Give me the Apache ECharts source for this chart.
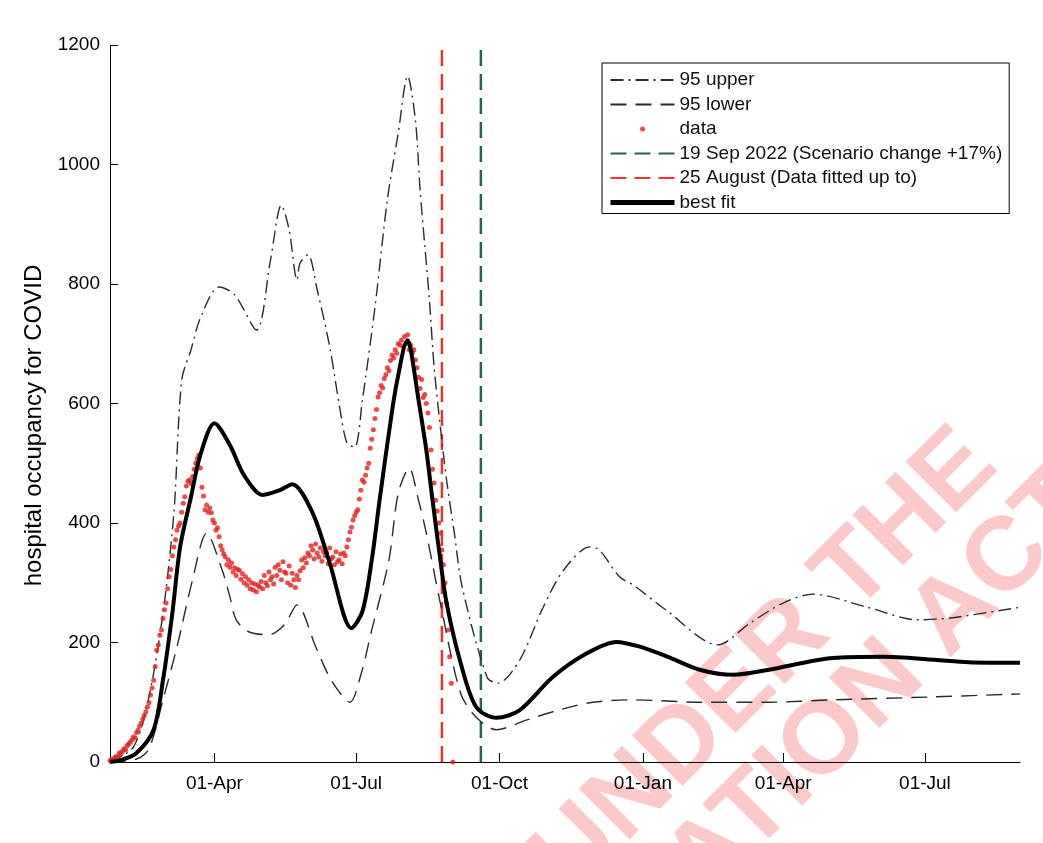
<!DOCTYPE html>
<html><head><meta charset="utf-8">
<script src="https://cdn.jsdelivr.net/npm/echarts@6/dist/echarts.min.js"></script>
<style>html,body{margin:0;padding:0;background:#fff}#chart{width:1043px;height:843px}</style>
</head><body><div id="chart"></div>
<script>
// ---- axis ----
const axisStart = '2022-01-24', axisEnd = '2023-08-31';
const tickDates = ['2022-04-01','2022-07-01','2022-10-01','2023-01-01','2023-04-01','2023-07-01'];
const tickLabels = ['01-Apr','01-Jul','01-Oct','01-Jan','01-Apr','01-Jul'];
const yMin = 0, yMax = 1200, yStep = 200;
const seriesNames = ['95 upper','95 lower','data','19 Sep 2022 (Scenario change +17%)','25 August (Data fitted up to)','best fit'];
const eventDates = ['2022-09-19','2022-08-25'];

// ---- daily observed data (from 24 Jan 2022) ----
const dataStart = '2022-01-24';
const dataJan = [2,4,3,7,9,8,15,14];
const dataFeb = [18,22,20,27,30,33,37,42,40,49,53,60,65,72,78,84,92,99,112,124,137,160,187,196,212,221,240,255];
const dataMar = [266,290,310,322,345,360,372,388,395,400,418,433,444,462,470,472,466,478,490,500,508,514,492,460,445,422,430,418,425,417,405];
const dataApr = [400,388,392,377,362,355,348,343,330,338,326,333,318,325,312,322,321,306,315,300,310,296,305,290,300,288,298,285,296,293];
const dataMay = [302,290,312,300,295,318,305,310,298,326,312,330,321,305,335,318,316,300,328,296,316,305,292,312,305,320,338,325,342,333,350];
const dataJun = [345,362,355,340,365,350,343,358,336,352,345,350,332,358,340,343,330,352,335,338,348,332,350,345,360,372,385,393,405,412];
const dataJul = [418,422,440,455,472,468,480,492,500,525,540,556,575,590,611,618,630,626,642,648,660,655,672,681,676,690,684,700,698,706,695];
const dataAug = [712,700,715,690,698,685,690,673,660,644,625,640,610,615,600,584,560,522,490,467,438,420,400,383,355,330,300,266,221,176,132];
const dataSep = [0];

// ---- best fit ----
const fitDates = ['2022-01-24','2022-01-31','2022-02-10','2022-02-21','2022-02-27','2022-03-05','2022-03-10','2022-03-17','2022-03-23','2022-04-01','2022-04-11','2022-04-20','2022-05-02','2022-05-13','2022-05-21','2022-06-03','2022-06-14','2022-06-28','2022-07-05','2022-07-11','2022-07-16','2022-07-22','2022-07-27','2022-08-03','2022-08-05','2022-08-10','2022-08-15','2022-08-19','2022-08-24','2022-08-28','2022-09-06','2022-09-16','2022-09-29','2022-10-14','2022-11-04','2022-11-26','2022-12-15','2022-12-30','2023-01-17','2023-02-07','2023-02-28','2023-03-22','2023-05-03','2023-06-04','2023-07-07','2023-07-29','2023-08-31'];
const fitValues = [0,3,15,54,137,249,360,444,514,567,530,480,447,455,465,417,333,224,252,338,438,551,634,706,690,606,522,438,338,266,166,92,74,87,142,182,201,193,176,154,146,154,174,176,171,167,166];

// ---- 95% upper ----
const upperDates = ['2022-01-24','2022-02-08','2022-02-18','2022-02-27','2022-03-06','2022-03-11','2022-03-17','2022-03-23','2022-04-04','2022-04-14','2022-04-28','2022-05-07','2022-05-14','2022-05-19','2022-05-24','2022-05-26','2022-05-31','2022-06-06','2022-06-14','2022-06-20','2022-06-25','2022-06-30','2022-07-05','2022-07-13','2022-07-21','2022-07-28','2022-08-03','2022-08-08','2022-08-11','2022-08-14','2022-08-17','2022-08-20','2022-08-24','2022-08-28','2022-09-02','2022-09-07','2022-09-23','2022-09-30','2022-10-14','2022-10-29','2022-11-11','2022-11-28','2022-12-04','2022-12-17','2022-12-26','2023-01-16','2023-02-18','2023-03-11','2023-04-01','2023-04-20','2023-05-25','2023-06-26','2023-07-17','2023-08-31'];
const upperValues = [0,25,109,249,417,639,690,743,795,782,723,840,932,890,807,835,849,790,695,600,534,527,606,760,941,1053,1148,1074,957,865,773,661,561,472,383,293,142,132,171,259,321,360,355,310,296,254,196,233,266,281,259,238,241,259];

// ---- 95% lower ----
const lowerDates = ['2022-01-24','2022-02-10','2022-02-18','2022-02-27','2022-03-08','2022-03-18','2022-03-27','2022-04-06','2022-04-11','2022-04-15','2022-04-23','2022-05-06','2022-05-16','2022-05-24','2022-06-05','2022-06-15','2022-06-27','2022-07-04','2022-07-11','2022-07-22','2022-07-28','2022-08-04','2022-08-10','2022-08-15','2022-08-24','2022-09-06','2022-09-16','2022-09-29','2022-10-18','2022-11-08','2022-11-30','2022-12-26','2023-02-07','2023-03-22','2023-05-03','2023-07-07','2023-08-31'];
const lowerValues = [0,5,22,104,193,305,383,321,276,238,218,213,230,263,193,137,100,146,221,338,450,492,438,383,266,115,75,54,70,87,100,104,100,100,104,109,114];

// ---- helpers ----
const DAY = 86400000;
const t = d => Date.parse(d + 'T00:00:00Z');
const pair = (ds, vs) => ds.map((d, i) => [t(d), vs[i]]);
const dataValues = [].concat(dataJan, dataFeb, dataMar, dataApr, dataMay, dataJun, dataJul, dataAug, dataSep);
const dataPts = dataValues.map((v, i) => [t(dataStart) + i * DAY, v]);
const tickTimes = tickDates.map(t);
const FONT = '"Liberation Sans", Arial, Helvetica, sans-serif';
const vline = d => [[t(d), yMin], [t(d), yMax]];
const WM = 'bold 104px "Liberation Sans", Arial, sans-serif';
const noSym = {opacity: 0};

const chart = echarts.init(document.getElementById('chart'), null, {renderer: 'canvas'});
chart.setOption({
  animation: false,
  backgroundColor: '#ffffff',
  textStyle: {fontFamily: FONT},
  grid: {left: 110, right: 23, top: 45, bottom: 81, containLabel: false},
  graphic: [
    {type: 'text', z: -10, x: 980, y: 448, rotation: 45 * Math.PI / 180,
      style: {text: 'RELEASED UNDER THE', font: WM, fill: 'rgba(240,60,60,0.28)', textAlign: 'right', textVerticalAlign: 'middle'}},
    {type: 'text', z: -10, x: 1079, y: 488, rotation: 45 * Math.PI / 180,
      style: {text: 'OFFICIAL INFORMATION ACT', font: WM, fill: 'rgba(240,60,60,0.28)', textAlign: 'right', textVerticalAlign: 'middle'}}
  ],
  legend: {
    orient: 'vertical', left: 602, top: 63,
    itemWidth: 64, itemHeight: 5, itemGap: 4.5,
    padding: [7, 7, 1, 6],
    backgroundColor: '#fff', borderColor: '#000', borderWidth: 1,
    textStyle: {fontSize: 19, color: '#111', fontFamily: FONT, lineHeight: 20},
    data: [
      {name: seriesNames[0], itemStyle: noSym},
      {name: seriesNames[1], itemStyle: noSym},
      {name: seriesNames[2]},
      {name: seriesNames[3], itemStyle: noSym},
      {name: seriesNames[4], itemStyle: noSym},
      {name: seriesNames[5], itemStyle: noSym, lineStyle: {width: 5}}
    ]
  },
  xAxis: {
    type: 'value', min: t(axisStart), max: t(axisEnd),
    axisLine: {show: true, onZero: false, lineStyle: {color: '#000', width: 1}},
    axisTick: {show: true, inside: true, length: 9, customValues: tickTimes, lineStyle: {color: '#000'}},
    axisLabel: {customValues: tickTimes, formatter: v => { const i = tickTimes.indexOf(v); return i >= 0 ? tickLabels[i] : ''; },
      fontSize: 19, color: '#000', margin: 12, fontFamily: FONT},
    splitLine: {show: false}
  },
  yAxis: {
    type: 'value', min: yMin, max: yMax, interval: yStep,
    axisLine: {show: true, lineStyle: {color: '#000', width: 1}},
    axisTick: {show: true, inside: true, length: 8, lineStyle: {color: '#000'}},
    axisLabel: {fontSize: 19, color: '#000', margin: 10, fontFamily: FONT, formatter: v => String(v)},
    splitLine: {show: false},
    name: 'hospital occupancy for COVID', nameLocation: 'middle', nameGap: 50,
    nameTextStyle: {fontSize: 24, color: '#000', fontFamily: FONT, padding: [0, 44, 0, 0]}
  },
  series: [
    {name: seriesNames[0], type: 'line', data: pair(upperDates, upperValues), symbol: 'none', smooth: 0.3,
      lineStyle: {color: '#2b2b2b', width: 1.4, type: [13, 5, 2, 5]}, itemStyle: {color: '#2b2b2b'}, z: 3},
    {name: seriesNames[1], type: 'line', data: pair(lowerDates, lowerValues), symbol: 'none', smooth: 0.3,
      lineStyle: {color: '#2b2b2b', width: 1.4, type: [16, 9]}, itemStyle: {color: '#2b2b2b'}, z: 3},
    {name: seriesNames[2], type: 'scatter', data: dataPts, symbol: 'circle', symbolSize: 5,
      itemStyle: {color: '#e61e1e'}, z: 4},
    {name: seriesNames[3], type: 'line', data: vline(eventDates[0]), symbol: 'none',
      lineStyle: {color: '#1f6b45', width: 2.5, type: [16, 8]}, itemStyle: {color: '#1f6b45'}, z: 2},
    {name: seriesNames[4], type: 'line', data: vline(eventDates[1]), symbol: 'none',
      lineStyle: {color: '#e8342a', width: 2.5, type: [16, 8]}, itemStyle: {color: '#e8342a'}, z: 2},
    {name: seriesNames[5], type: 'line', data: pair(fitDates, fitValues), symbol: 'none', smooth: 0.3,
      lineStyle: {color: '#000', width: 4}, itemStyle: {color: '#000'}, z: 5}
  ]
});
</script></body></html>
